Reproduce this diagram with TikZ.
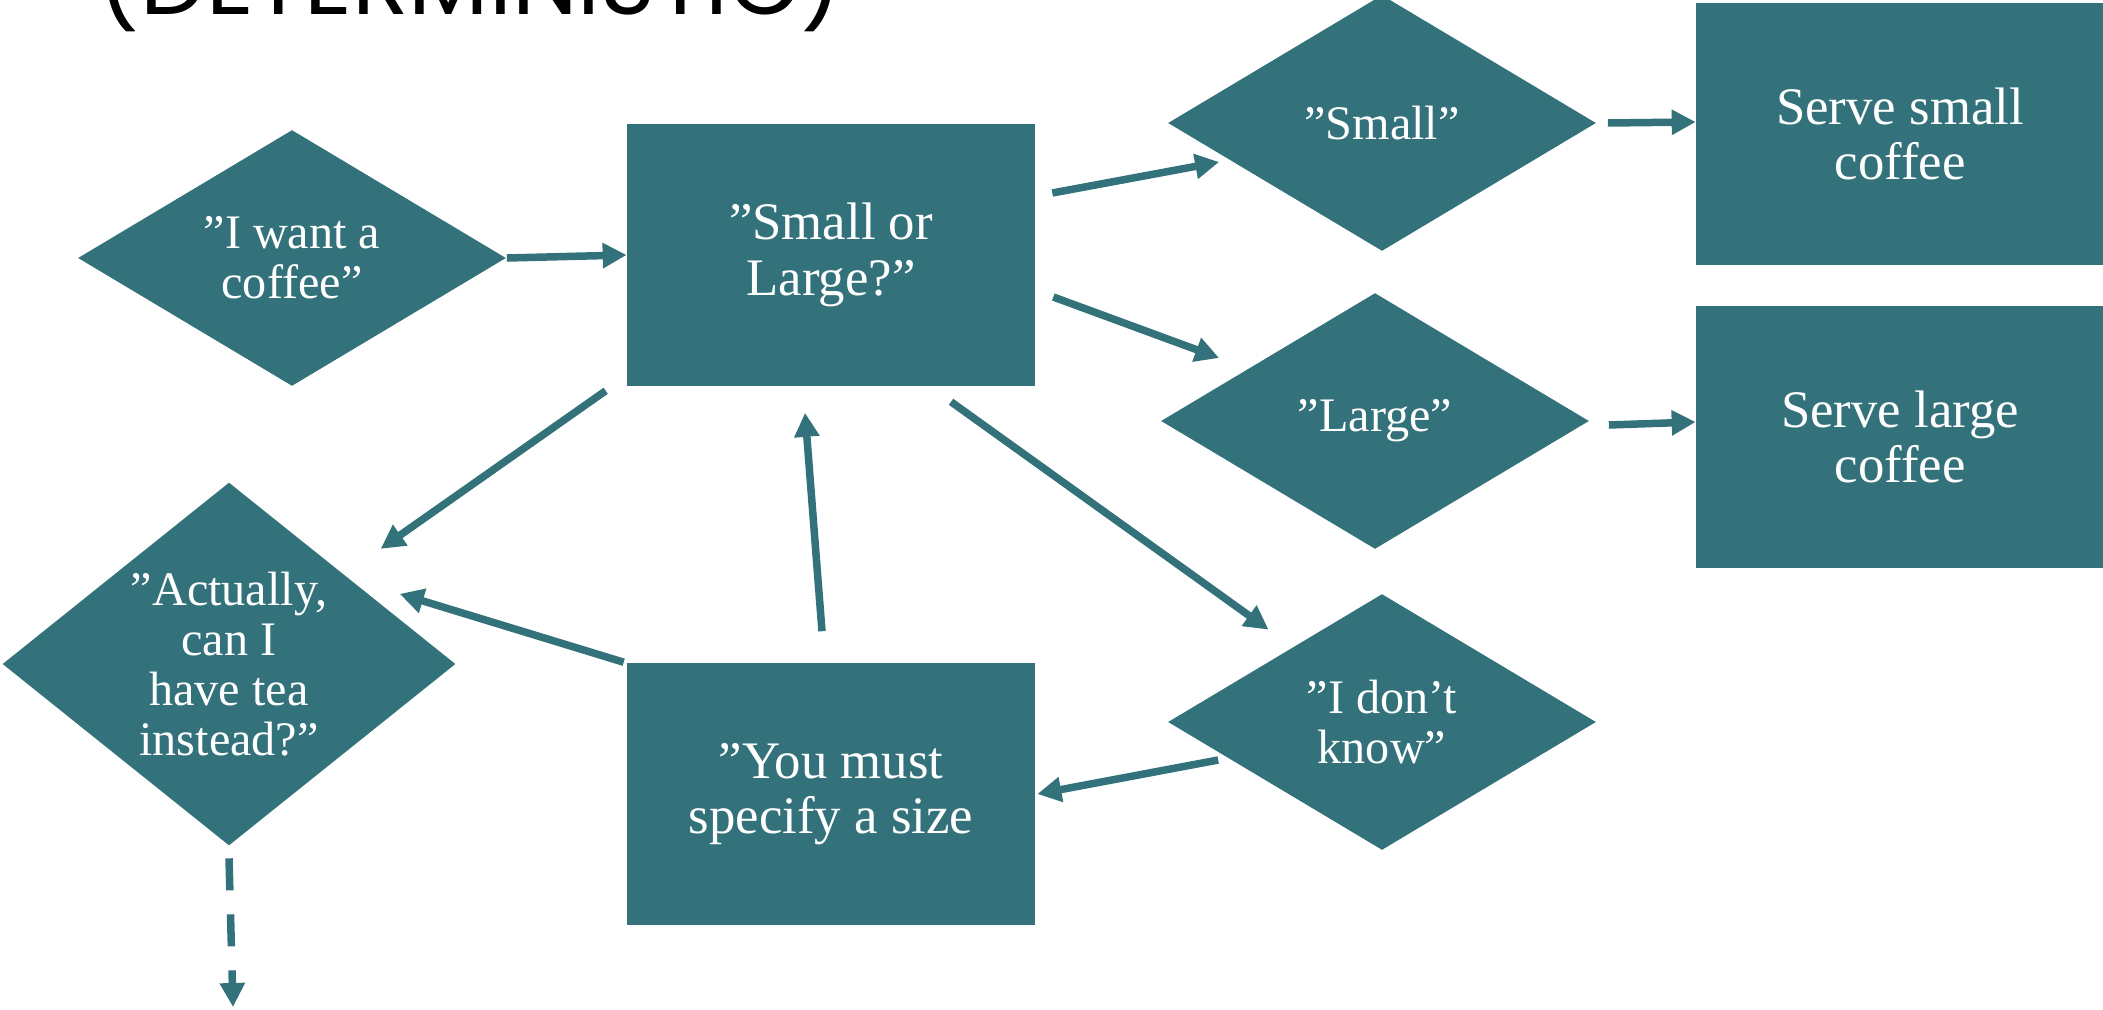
\documentclass[tikz,border=0pt]{standalone}
\usepackage{fontspec}
\setmainfont{Liberation Serif}
\newfontfamily\titlefont{Poppins}
\usetikzlibrary{shapes.geometric,arrows.meta,calc}
\definecolor{cupteal}{RGB}{51,114,123}

\begin{document}
\begin{tikzpicture}[
	x=0.01cm,
	y=-0.01cm,
	choice/.style={
		diamond,
		fill=cupteal,
		text=white,
		align=center,
		inner sep=0pt,
		shape aspect=1.67,
		minimum width=4.28cm,
		minimum height=2.56cm,
		font=\fontsize{13.7}{14.2}\selectfont
	},
	action/.style={
		rectangle,
		fill=cupteal,
		text=white,
		align=center,
		inner sep=0pt,
		minimum width=4.07cm,
		minimum height=2.62cm,
		font=\fontsize{15}{15.8}\selectfont
	},
	flow/.style={
		draw=cupteal,
		line width=0.075cm,
		-{Triangle[length=0.24cm,width=0.24cm]}
	},
]

\useasboundingbox (0,0) rectangle (2103,1009);
\clip (0,0) rectangle (2103,1009);

% Title (cut at the top)
\node[anchor=base west, inner sep=0pt] (title) at (97,14)
{\resizebox{7.45cm}{!}{\titlefont (DETERMINISTIC)}};

% Decisions
\node[choice] (want) at (292,258) {”I want a\\coffee”};
\node[choice] (small) at (1382,123) {”Small”};
\node[choice] (large) at (1375,421) {”Large”};
\node[choice] (dunno) at (1382,722) {”I don’t\\know”};
\node[choice, shape aspect=1.25, minimum width=4.53cm, minimum height=3.63cm]
(tea) at (229,664) {”Actually,\\can I\\have tea\\instead?”};

% Actions
\node[action] (sol) at (831,255) {”Small or\\Large?”};
\node[action] (must) at (831,794) {”You must\\specify a size};
\node[action] (servesmall) at (1900,134) {Serve small\\coffee};
\node[action] (servelarge) at (1900,437) {Serve large\\coffee};

\coordinate (next) at (233,1007);

% Connectors
\draw[flow] (want.east) -- (sol.west);
\draw[flow] ($(sol.east)+(17,-62)$) -- ($(small.west)+(52,39)$);
\draw[flow] ($(sol.east)+(18,42)$) -- ($(large.west)+(59,-63)$);
\draw[flow] ($(sol.south west)+(-21,4)$) -- ($(tea.north east)+(38,-24)$);
\draw[flow] ($(sol.south)+(120,15)$) -- ($(dunno.north west)+(-6,-28)$);

\draw[flow] ($(small.east)+(11,0)$) -- ($(servesmall.west)+(0,-12)$);
\draw[flow] ($(large.east)+(19,4)$) -- ($(servelarge.west)+(0,-15)$);

\draw[flow] ($(dunno.west)+(51,38)$) -- ($(must.east)+(2,0)$);
\draw[flow] ($(must.north)+(-9,-31)$) -- ($(sol.south)+(-26,26)$);
\draw[flow] ($(must.north west)+(-3,0)$) -- ($(tea.north east)+(57,21)$);

\draw[flow, dash pattern=on 0.32cm off 0.24cm] ($(tea.south)+(0,12)$) -- (next);

\end{tikzpicture}
\end{document}
